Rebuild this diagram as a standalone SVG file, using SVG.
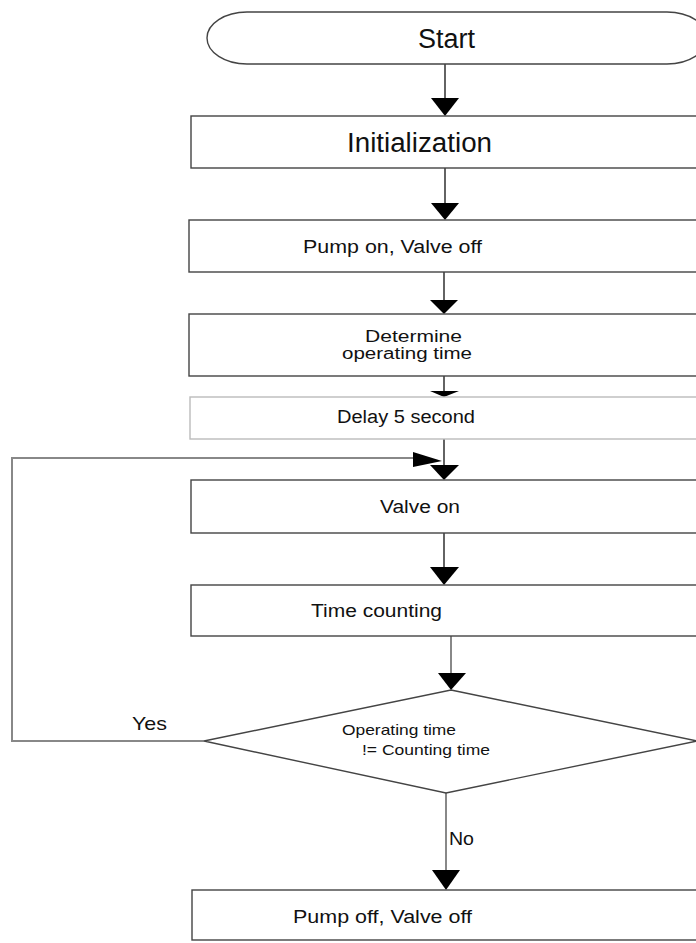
<svg xmlns="http://www.w3.org/2000/svg" width="696" height="943" viewBox="0 0 696 943">
<style>
  .box{fill:#fff;stroke:#444;stroke-width:1.4}
  .light{fill:#fff;stroke:#bbb;stroke-width:1.4}
  .t{font-family:"Liberation Sans",Arial,sans-serif;fill:#111}
  .c{fill:none;stroke:#222;stroke-width:1.4}
  .g{fill:none;stroke:#888;stroke-width:2}
  .ah{fill:#000}
</style>
<rect width="696" height="943" fill="#fff"/>
<g id="connectors">
  <line class="c" x1="445" y1="64" x2="445" y2="100"/>
  <polygon class="ah" points="431,98 459,98 445,116"/>
  <line class="c" x1="445" y1="168" x2="445" y2="205"/>
  <polygon class="ah" points="431,203 459,203 445,220"/>
  <line class="c" x1="444" y1="272" x2="444" y2="302"/>
  <polygon class="ah" points="430,300 458,300 444,314"/>
  <line class="c" x1="444" y1="376" x2="444" y2="392"/>
  <polygon class="ah" points="430,391 459,391 444,397"/>
  <line class="c" x1="444" y1="439" x2="444" y2="467"/>
  <polygon class="ah" points="430,465 459,465 444,480"/>
  <line class="c" x1="444" y1="533" x2="444" y2="569"/>
  <polygon class="ah" points="430,567 459,567 444,585"/>
  <line class="g" x1="451" y1="636" x2="451" y2="675"/>
  <polygon class="ah" points="438,673 466,673 451,690"/>
  <path class="g" d="M204,741 H12 V458 H420"/>
  <polygon class="ah" points="413,452 442,461 413,467"/>
  <line class="g" x1="446" y1="793" x2="446" y2="872"/>
  <polygon class="ah" points="432,870 460,870 446,890"/>
  <text class="t" x="132" y="730" font-size="19" textLength="35" lengthAdjust="spacingAndGlyphs">Yes</text>
  <text class="t" x="449" y="845" font-size="18" textLength="25" lengthAdjust="spacingAndGlyphs">No</text>
</g>
<g id="start">
  <rect class="box" x="207" y="12" width="500" height="52" rx="40" ry="26"/>
  <text class="t" x="418" y="48" font-size="27" textLength="57" lengthAdjust="spacingAndGlyphs">Start</text>
</g>
<g id="init">
  <rect class="box" x="191" y="116" width="520" height="52"/>
  <text class="t" x="347" y="152" font-size="27" textLength="145" lengthAdjust="spacingAndGlyphs">Initialization</text>
</g>
<g id="pumpon">
  <rect class="box" x="189" y="220" width="520" height="52"/>
  <text class="t" x="303" y="253" font-size="18" textLength="179" lengthAdjust="spacingAndGlyphs">Pump on, Valve off</text>
</g>
<g id="determine">
  <rect class="box" x="189" y="314" width="520" height="62"/>
  <text class="t" x="365" y="342" font-size="16" textLength="97" lengthAdjust="spacingAndGlyphs">Determine</text>
  <text class="t" x="342" y="359" font-size="16" textLength="130" lengthAdjust="spacingAndGlyphs">operating time</text>
</g>
<g id="delay">
  <rect class="light" x="190" y="397" width="520" height="42"/>
  <text class="t" x="337" y="423" font-size="18" textLength="138" lengthAdjust="spacingAndGlyphs">Delay 5 second</text>
</g>
<g id="valveon">
  <rect class="box" x="191" y="480" width="520" height="53"/>
  <text class="t" x="380" y="513" font-size="18" textLength="80" lengthAdjust="spacingAndGlyphs">Valve on</text>
</g>
<g id="timecount">
  <rect class="box" x="191" y="585" width="520" height="51"/>
  <text class="t" x="311" y="617" font-size="18" textLength="131" lengthAdjust="spacingAndGlyphs">Time counting</text>
</g>
<g id="decision">
  <polygon class="box" points="451,690 697,741 446,793 204,741"/>
  <text class="t" x="342" y="735" font-size="15" textLength="114" lengthAdjust="spacingAndGlyphs">Operating time</text>
  <text class="t" x="362" y="755" font-size="15" textLength="128" lengthAdjust="spacingAndGlyphs">!= Counting time</text>
</g>
<g id="pumpoff">
  <rect class="box" x="192" y="890" width="520" height="50"/>
  <text class="t" x="293" y="923" font-size="18" textLength="179" lengthAdjust="spacingAndGlyphs">Pump off, Valve off</text>
</g>
</svg>
